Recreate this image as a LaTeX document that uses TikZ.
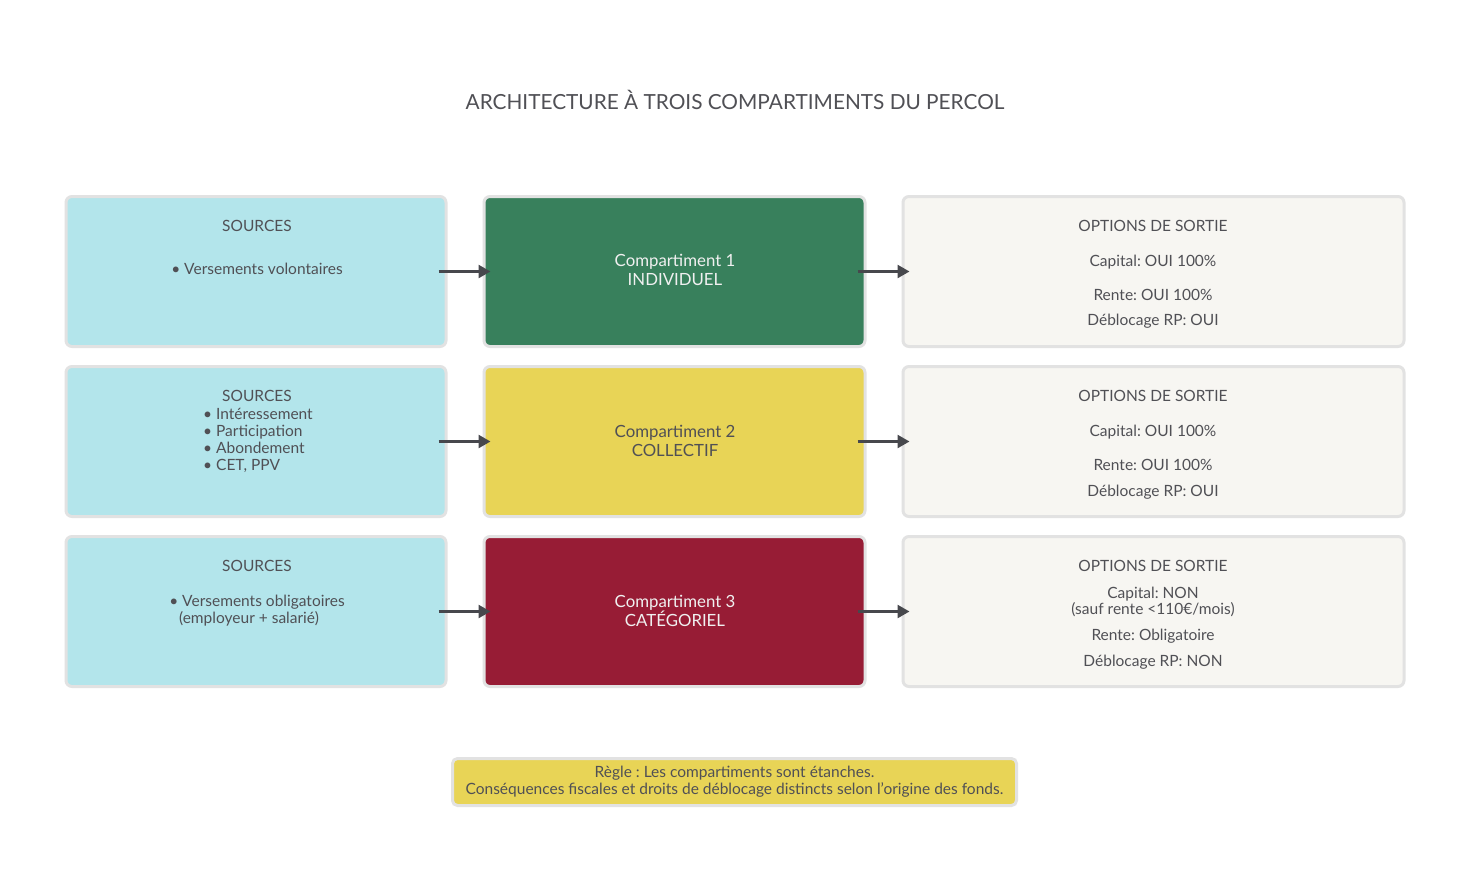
\documentclass[tikz,border=0pt]{standalone}
\usepackage{fontspec}
\setmainfont{Lato}
\frenchspacing
\usetikzlibrary{arrows.meta}
\definecolor{txt}{HTML}{505055}
\definecolor{bord}{HTML}{E2E2E2}
\definecolor{cyanf}{HTML}{B3E5EB}
\definecolor{greenf}{HTML}{38805C}
\definecolor{yellowf}{HTML}{E8D456}
\definecolor{redf}{HTML}{971C35}
\definecolor{greyf}{HTML}{F7F6F2}
\definecolor{arrc}{HTML}{47484D}
\begin{document}
\begin{tikzpicture}[x=1pt,y=-1pt,
  box/.style={draw=bord,line width=3pt,rounded corners=6pt,minimum height=150pt,inner sep=0pt},
  lbox/.style={box,fill=cyanf,minimum width=380pt},
  mbox/.style={box,minimum width=381pt},
  rbox/.style={box,fill=greyf,minimum width=501pt},
  tx/.style={text=txt,font=\fontsize{15.5}{17}\selectfont,align=center,inner sep=0pt,text height=11pt,text depth=3pt},
  ltx/.style={tx,align=left},
  wtx/.style={text=white!94!black,font=\fontsize{16.8}{19}\selectfont,align=center,inner sep=0pt},
  dtx/.style={text=txt,font=\fontsize{16.8}{19}\selectfont,align=center,inner sep=0pt},
  arr/.style={draw=arrc,line width=2.5pt,-{Triangle[length=12pt,width=13pt]}}
]
\useasboundingbox (0,0) rectangle (1470,884);
\fill[white] (0,0) rectangle (1470,884);

\node[text=txt,font=\fontsize{20.8}{24}\selectfont,inner sep=0pt] (title) at (735,100) {ARCHITECTURE À TROIS COMPARTIMENTS DU PERCOL};

% row 1
\node[lbox] (l1) at (256,271.5) {};
\node[mbox,fill=greenf] (m1) at (674.5,271.5) {};
\node[rbox] (r1) at (1153.5,271.5) {};
% row 2
\node[lbox] (l2) at (256,441.5) {};
\node[mbox,fill=yellowf] (m2) at (674.5,441.5) {};
\node[rbox] (r2) at (1153.5,441.5) {};
% row 3
\node[lbox] (l3) at (256,611.5) {};
\node[mbox,fill=redf] (m3) at (674.5,611.5) {};
\node[rbox] (r3) at (1153.5,611.5) {};

% left texts
\node[tx] (l1a) at (257,227) {SOURCES};
\node[tx] (l1b) at (257,270) {• Versements volontaires};
\node[tx] (l2a) at (257,397) {SOURCES};
\node[ltx,anchor=west] (l2b) at (203,415) {• Intéressement};
\node[ltx,anchor=west] (l2c) at (203,432) {• Participation};
\node[ltx,anchor=west] (l2d) at (203,449) {• Abondement};
\node[ltx,anchor=west] (l2e) at (203,466) {• CET, PPV};
\node[tx] (l3a) at (257,567) {SOURCES};
\node[tx] (l3b) at (257,602) {• Versements obligatoires};
\node[tx] (l3c) at (249,619) {(employeur + salarié)};

% middle texts
\node[wtx] (m1t) at (675,270) {Compartiment 1\\INDIVIDUEL};
\node[dtx] (m2t) at (675,441) {Compartiment 2\\COLLECTIF};
\node[wtx] (m3t) at (675,611) {Compartiment 3\\CATÉGORIEL};

% right texts
\node[tx] (r1a) at (1153,227) {OPTIONS DE SORTIE};
\node[tx] (r1b) at (1153,262) {Capital: OUI 100\%};
\node[tx] (r1c) at (1153,296) {Rente: OUI 100\%};
\node[tx] (r1d) at (1153,321) {Déblocage RP: OUI};
\node[tx] (r2a) at (1153,397) {OPTIONS DE SORTIE};
\node[tx] (r2b) at (1153,432) {Capital: OUI 100\%};
\node[tx] (r2c) at (1153,466) {Rente: OUI 100\%};
\node[tx] (r2d) at (1153,492) {Déblocage RP: OUI};
\node[tx] (r3a) at (1153,567) {OPTIONS DE SORTIE};
\node[tx] (r3b) at (1153,594) {Capital: NON};
\node[tx] (r3b2) at (1153,610) {(sauf rente <110€/mois)};
\node[tx] (r3c) at (1153,636) {Rente: Obligatoire};
\node[tx] (r3d) at (1153,662) {Déblocage RP: NON};

% arrows
\foreach \i in {1,2,3}{
  \draw[arr] ([xshift=-9pt]l\i.east) -- ([xshift=8pt]m\i.west);
  \draw[arr] ([xshift=-9pt]m\i.east) -- ([xshift=8pt]r\i.west);
}

% note
\node[draw=bord,line width=3pt,rounded corners=5pt,fill=yellowf,minimum width=564pt,minimum height=47pt,inner sep=0pt] (note) at (734.5,782) {};
\node[tx] (notet1) at (734.5,773) {Règle : Les compartiments sont étanches.};
\node[tx] (notet2) at (734.5,790) {Conséquences fiscales et droits de déblocage distincts selon l'origine des fonds.};
\end{tikzpicture}
\end{document}
